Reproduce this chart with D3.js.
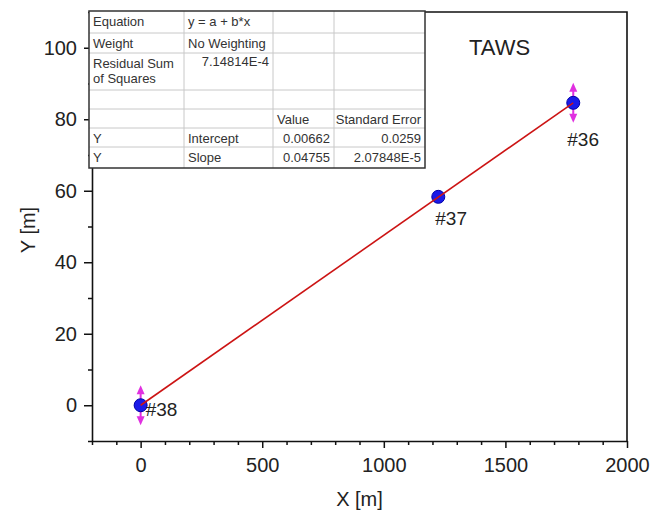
<!DOCTYPE html>
<html>
<head>
<meta charset="utf-8">
<script src="https://cdn.jsdelivr.net/npm/d3@7"></script>
<style>
  body { margin: 0; background: #fff; }
  svg { font-family: "Liberation Sans", Arial, sans-serif; }
</style>
</head>
<body>
<div class="chart"></div>
<script>
// data
const pointNames = ["#36", "#37", "#38"];
const pointX = [1779, 1224, 0];
const pointY = [84.6, 58.3, 0];
const pointErr = [5.6, 0, 5.6];          // vertical error, 0 = none drawn

const fitIntercept = 0.00662;
const fitSlope = 0.04755;

const xTicks = [0, 500, 1000, 1500, 2000];
const yTicks = [0, 20, 40, 60, 80, 100];

const tableRows = [
    ["Equation", "y = a + b*x", "", ""],
    ["Weight", "No Weighting", "", ""],
    ["Residual Sum|of Squares", "7.14814E-4", "", ""],
    ["", "", "", ""],
    ["", "", "Value", "Standard Error"],
    ["Y", "Intercept", "0.00662", "0.0259"],
    ["Y", "Slope", "0.04755", "2.07848E-5"]
];

const W = 652, H = 510;
const plot = {left: 92, right: 627, top: 12, bottom: 441};

const svg = d3.select(".chart")
    .append("svg")
    .attr("width", W)
    .attr("height", H);

const xScale = d3.scaleLinear()
    .domain([-200, 2000])
    .range([plot.left, plot.right]);

const yScale = d3.scaleLinear()
    .domain([-10, 110])
    .range([plot.bottom, plot.top]);

// frame (top + right, no ticks)
svg.append("path")
    .attr("d", `M${plot.left},${plot.top}H${plot.right}V${plot.bottom}`)
    .attr("fill", "none")
    .attr("stroke", "#111")
    .attr("stroke-width", 1.6);

// minor ticks
const xMinor = d3.range(-200, 2001, 100).filter(v => !xTicks.includes(v));
const yMinor = d3.range(-10, 111, 10).filter(v => !yTicks.includes(v));

svg.append("g")
    .attr("transform", `translate(0,${plot.bottom})`)
    .call(d3.axisBottom(xScale).tickValues(xMinor).tickSize(4).tickFormat(""))
    .call(g => g.select(".domain").remove())
    .selectAll("line").attr("stroke", "#111").attr("stroke-width", 1.5);

svg.append("g")
    .attr("transform", `translate(${plot.left},0)`)
    .call(d3.axisLeft(yScale).tickValues(yMinor).tickSize(4).tickFormat(""))
    .call(g => g.select(".domain").remove())
    .selectAll("line").attr("stroke", "#111").attr("stroke-width", 1.5);

// major axes
const xAxis = svg.append("g")
    .attr("transform", `translate(0,${plot.bottom})`)
    .call(d3.axisBottom(xScale).tickValues(xTicks).tickFormat(d3.format("d"))
        .tickSize(7).tickSizeOuter(0).tickPadding(10));

const yAxis = svg.append("g")
    .attr("transform", `translate(${plot.left},0)`)
    .call(d3.axisLeft(yScale).tickValues(yTicks).tickFormat(d3.format("d"))
        .tickSize(8).tickSizeOuter(0).tickPadding(7));

[xAxis, yAxis].forEach(g => {
    g.select(".domain").attr("stroke", "#111").attr("stroke-width", 1.6);
    g.selectAll(".tick line").attr("stroke", "#111").attr("stroke-width", 1.5);
    g.selectAll(".tick text")
        .attr("fill", "#222")
        .style("font-size", "20px")
        .style("font-family", "'Liberation Sans', Arial, sans-serif");
});

// axis titles
svg.append("text")
    .attr("x", (plot.left + plot.right) / 2)
    .attr("y", 506)
    .attr("text-anchor", "middle")
    .attr("fill", "#222")
    .style("font-size", "20px")
    .text("X [m]");

svg.append("text")
    .attr("transform", "translate(35,230) rotate(-90)")
    .attr("text-anchor", "middle")
    .attr("fill", "#222")
    .style("font-size", "20px")
    .text("Y [m]");

// title
svg.append("text")
    .attr("x", 469)
    .attr("y", 55)
    .attr("fill", "#222")
    .style("font-size", "22px")
    .text("TAWS");

const pts = pointX.map((x, i) => ({x: x, y: pointY[i], err: pointErr[i], name: pointNames[i]}));

// error bars (double arrows)
const errColor = "#e030e0";
const eb = svg.append("g");
pts.filter(d => d.err > 0).forEach(d => {
    const cx = xScale(d.x), y1 = yScale(d.y + d.err), y2 = yScale(d.y - d.err);
    eb.append("line")
        .attr("x1", cx).attr("x2", cx)
        .attr("y1", y1 + 5).attr("y2", y2 - 5)
        .attr("stroke", errColor).attr("stroke-width", 2);
    eb.append("path")
        .attr("d", `M${cx},${y1}L${cx - 4},${y1 + 9}L${cx + 4},${y1 + 9}Z`)
        .attr("fill", errColor);
    eb.append("path")
        .attr("d", `M${cx},${y2}L${cx - 4},${y2 - 9}L${cx + 4},${y2 - 9}Z`)
        .attr("fill", errColor);
});

// points
svg.selectAll("circle")
    .data(pts)
    .enter()
    .append("circle")
    .attr("cx", d => xScale(d.x))
    .attr("cy", d => yScale(d.y))
    .attr("r", 6.5)
    .attr("fill", "#1a1ae8")
    .attr("stroke", "#0000a8")
    .attr("stroke-width", 1);

// fit line over data range
const xr = d3.extent(pointX);
svg.append("line")
    .attr("x1", xScale(xr[0]))
    .attr("y1", yScale(fitIntercept + fitSlope * xr[0]))
    .attr("x2", xScale(xr[1]))
    .attr("y2", yScale(fitIntercept + fitSlope * xr[1]))
    .attr("stroke", "#cc1414")
    .attr("stroke-width", 1.6);

// point labels
const labelOff = {"#36": [-6, 43], "#37": [-3, 28], "#38": [5, 11]};
svg.selectAll(".plabel")
    .data(pts)
    .enter()
    .append("text")
    .attr("class", "plabel")
    .attr("x", d => xScale(d.x) + labelOff[d.name][0])
    .attr("y", d => yScale(d.y) + labelOff[d.name][1])
    .attr("fill", "#222")
    .style("font-size", "19px")
    .text(d => d.name);

// fit results table
const colEdges = [89, 184, 273, 334, 425];
const rowEdges = [11, 33, 53, 90, 109, 128, 147, 168];
const tbl = svg.append("g");

tbl.append("rect")
    .attr("x", colEdges[0]).attr("y", rowEdges[0])
    .attr("width", colEdges[4] - colEdges[0])
    .attr("height", rowEdges[7] - rowEdges[0])
    .attr("fill", "#fff");

colEdges.slice(1, -1).forEach(x => {
    tbl.append("line")
        .attr("x1", x).attr("x2", x)
        .attr("y1", rowEdges[0]).attr("y2", rowEdges[7])
        .attr("stroke", "#c8c8c8").attr("stroke-width", 1);
});
rowEdges.slice(1, -1).forEach(y => {
    tbl.append("line")
        .attr("x1", colEdges[0]).attr("x2", colEdges[4])
        .attr("y1", y).attr("y2", y)
        .attr("stroke", "#c8c8c8").attr("stroke-width", 1);
});

tbl.append("rect")
    .attr("x", colEdges[0]).attr("y", rowEdges[0])
    .attr("width", colEdges[4] - colEdges[0])
    .attr("height", rowEdges[7] - rowEdges[0])
    .attr("fill", "none")
    .attr("stroke", "#333")
    .attr("stroke-width", 1.5);

const isNum = s => /^[-0-9.]/.test(s);
tableRows.forEach((row, r) => {
    row.forEach((cell, c) => {
        if (!cell) return;
        const right = isNum(cell) || cell === "Standard Error";
        const lines = cell.split("|");
        const t = tbl.append("text")
            .attr("x", right ? colEdges[c + 1] - 4 : colEdges[c] + 4)
            .attr("y", rowEdges[r] + 15 - (c === 1 && r === 2 ? 2 : 0))
            .attr("text-anchor", right ? "end" : "start")
            .attr("fill", "#333")
            .style("font-size", "13px");
        lines.forEach((ln, k) => {
            t.append("tspan")
                .attr("x", right ? colEdges[c + 1] - 4 : colEdges[c] + 4)
                .attr("dy", k === 0 ? 0 : 15)
                .text(ln);
        });
    });
});
</script>
</body>
</html>
